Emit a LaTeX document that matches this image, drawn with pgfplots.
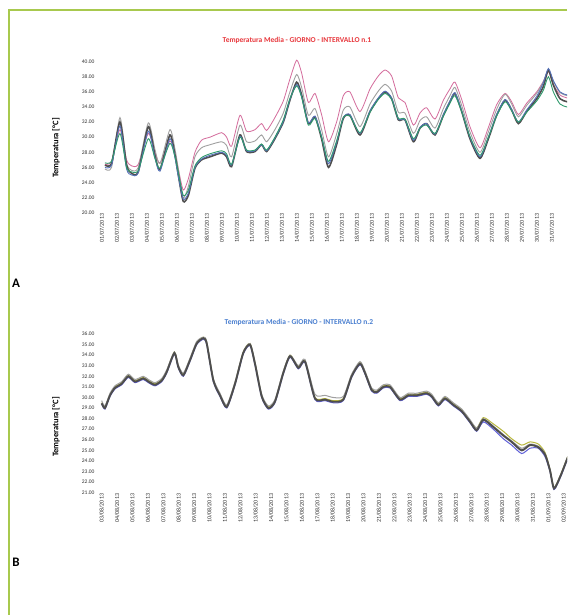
\documentclass[border=0pt]{standalone}
\usepackage{fontspec}
\setmainfont{Carlito}
\usepackage{pgfplots}
\pgfplotsset{compat=1.18}
\definecolor{bordergreen}{HTML}{A8C94E}
\definecolor{cdark}{HTML}{4E4E4E}
\definecolor{cgreen}{HTML}{2F9A6C}
\definecolor{cblue}{HTML}{5470B8}
\definecolor{cgrey}{HTML}{A0A0A0}
\definecolor{cmag}{HTML}{D46C9C}
\definecolor{colive}{HTML}{B9B83E}
\definecolor{cblue2}{HTML}{5E5ED8}
\definecolor{titlered}{HTML}{E8383D}
\definecolor{titleblue}{HTML}{4A7FD0}
\pgfplotsset{
  panel/.style={
    scale only axis,
    anchor=south west,
    axis line style={draw=none},
    major tick length=0pt,
    clip=false,
    xticklabel style={rotate=90, anchor=east, font=\fontsize{6}{7}\selectfont, color=black!80, inner sep=1pt},
    yticklabel style={font=\fontsize{5.5}{6}\selectfont, color=black!80, xshift=-2pt},
    /pgf/number format/assume math mode=true,
    yticklabel={\pgfmathprintnumber[fixed,fixed zerofill,precision=2]{\tick}},
  }
}
\begin{document}
\begin{tikzpicture}[x=1pt,y=1pt]
\useasboundingbox (0,0) rectangle (567,615);
\fill[white] (0,0) rectangle (567,615);
\begin{scope}
\clip (0,0) rectangle (567,615);
% ---------------- Panel A ----------------
\begin{axis}[panel, at={(100pt,402.3pt)}, width=482pt, height=158.55pt,
  xmin=-0.13, xmax=32, ymin=20, ymax=41, ytick={20,22,...,40}, xtick={0,...,30},
  xticklabels={01/07/2013,02/07/2013,03/07/2013,04/07/2013,05/07/2013,06/07/2013,07/07/2013,08/07/2013,09/07/2013,10/07/2013,11/07/2013,12/07/2013,13/07/2013,14/07/2013,15/07/2013,16/07/2013,17/07/2013,18/07/2013,19/07/2013,20/07/2013,21/07/2013,22/07/2013,23/07/2013,24/07/2013,25/07/2013,26/07/2013,27/07/2013,28/07/2013,29/07/2013,30/07/2013,31/07/2013}]
\addplot[cmag, line width=0.8pt, smooth, tension=0.4] coordinates {
(0.2,26.4)(0.64,26.8)(1.2,31.0)(1.64,27.0)(1.98,26.2)(2.42,26.4)(3.09,30.5)(3.53,28.0)(3.87,26.6)(4.53,29.5)(4.87,27.8)(5.09,25.8)(5.42,23.0)(5.76,24.5)(6.2,28.0)(6.64,29.6)(7.2,30.0)(7.98,30.6)(8.31,30.0)(8.64,28.8)(9.2,32.9)(9.64,30.8)(10.2,31.0)(10.64,31.8)(10.98,30.9)(11.53,32.6)(12.09,34.8)(12.53,37.7)(12.98,40.2)(13.31,38.5)(13.76,34.6)(14.2,35.8)(14.64,33.0)(15.1,29.4)(15.64,32.0)(16.09,35.5)(16.53,36.0)(17.2,33.4)(17.87,36.4)(18.42,38.1)(18.87,38.9)(19.31,38.1)(19.76,35.2)(20.2,34.6)(20.76,31.6)(21.2,33.2)(21.64,33.9)(22.2,32.4)(22.76,34.9)(23.2,36.4)(23.53,37.3)(23.98,35.0)(24.53,31.4)(25.2,28.6)(25.76,31.3)(26.31,34.3)(26.87,35.8)(27.31,34.7)(27.76,33.0)(28.31,34.5)(28.98,36.0)(29.42,37.4)(29.76,38.7)(30.09,37.0)(30.53,35.6)(31,35.2)(31.5,35.0)(32,35.4)};
\addplot[cgrey, line width=0.9pt, smooth, tension=0.4] coordinates {
(0.2,25.8)(0.64,26.0)(1.2,32.6)(1.64,26.6)(1.98,25.6)(2.42,26.0)(3.09,31.9)(3.53,28.4)(3.87,26.5)(4.53,31.0)(4.87,28.4)(5.09,25.8)(5.42,22.0)(5.76,23.5)(6.2,27.4)(6.64,28.6)(7.2,29.0)(7.98,29.4)(8.31,28.9)(8.64,27.4)(9.2,31.6)(9.64,29.4)(10.2,29.5)(10.64,30.3)(10.98,29.4)(11.53,31.0)(12.09,33.2)(12.53,36.0)(12.98,38.3)(13.31,36.6)(13.76,32.9)(14.2,33.8)(14.64,31.0)(15.1,27.4)(15.64,30.4)(16.09,33.6)(16.53,34.0)(17.2,31.4)(17.87,34.4)(18.42,36.1)(18.87,37.0)(19.31,36.1)(19.76,33.3)(20.2,33.2)(20.76,30.5)(21.2,32.2)(21.64,32.7)(22.2,31.2)(22.76,33.8)(23.2,35.5)(23.53,36.6)(23.98,34.2)(24.53,30.7)(25.2,28.0)(25.76,30.7)(26.31,33.7)(26.87,35.7)(27.31,34.4)(27.76,32.7)(28.31,34.2)(28.98,35.8)(29.42,37.3)(29.76,38.9)(30.09,37.4)(30.53,35.9)(31,35.5)(31.5,35.2)(32,35.6)};
\addplot[cdark, line width=1.6pt, smooth, tension=0.4] coordinates {
(0.2,26.3)(0.64,26.5)(1.2,32.0)(1.64,26.3)(1.98,25.2)(2.42,25.4)(3.09,31.4)(3.53,27.6)(3.87,25.7)(4.53,30.3)(4.87,27.6)(5.09,25.0)(5.42,21.5)(5.76,22.3)(6.2,25.9)(6.64,27.0)(7.2,27.4)(7.98,27.9)(8.31,27.4)(8.64,26.1)(9.2,30.3)(9.64,28.1)(10.2,28.1)(10.64,29.0)(10.98,28.1)(11.53,29.8)(12.09,32.0)(12.53,34.9)(12.98,37.3)(13.31,35.6)(13.76,31.8)(14.2,32.7)(14.64,29.8)(15.1,26.0)(15.64,29.0)(16.09,32.5)(16.53,32.9)(17.2,30.3)(17.87,33.4)(18.42,35.1)(18.87,36.0)(19.31,35.1)(19.76,32.3)(20.2,32.3)(20.76,29.4)(21.2,31.2)(21.64,31.8)(22.2,30.3)(22.76,32.9)(23.2,34.7)(23.53,35.8)(23.98,33.4)(24.53,29.8)(25.2,27.2)(25.76,29.8)(26.31,32.9)(26.87,34.9)(27.31,33.6)(27.76,31.8)(28.31,33.4)(28.98,35.1)(29.42,36.7)(29.76,38.9)(30.09,36.9)(30.53,35.1)(31,34.7)(31.5,34.4)(32,35.0)};
\addplot[cblue, line width=0.9pt, smooth, tension=0.4] coordinates {
(0.2,26.0)(0.64,26.3)(1.2,31.5)(1.64,25.8)(1.98,25.0)(2.42,25.3)(3.09,30.8)(3.53,27.3)(3.87,25.5)(4.53,29.8)(4.87,27.3)(5.09,24.8)(5.42,21.8)(5.76,22.6)(6.2,26.0)(6.64,27.1)(7.2,27.6)(7.98,28.0)(8.31,27.6)(8.64,26.3)(9.2,30.1)(9.64,28.2)(10.2,28.2)(10.64,29.0)(10.98,28.2)(11.53,29.9)(12.09,32.1)(12.53,35.0)(12.98,37.0)(13.31,35.4)(13.76,31.9)(14.2,32.8)(14.64,30.1)(15.1,26.5)(15.64,29.3)(16.09,32.6)(16.53,33.0)(17.2,30.5)(17.87,33.5)(18.42,35.2)(18.87,36.1)(19.31,35.2)(19.76,32.4)(20.2,32.3)(20.76,29.6)(21.2,31.3)(21.64,31.8)(22.2,30.4)(22.76,33.0)(23.2,34.8)(23.53,35.9)(23.98,33.5)(24.53,30.0)(25.2,27.4)(25.76,30.0)(26.31,33.0)(26.87,35.0)(27.31,33.7)(27.76,32.0)(28.31,33.6)(28.98,35.4)(29.42,37.2)(29.76,39.1)(30.09,37.5)(30.53,36.0)(31,35.6)(31.5,35.4)(32,35.8)};
\addplot[cgreen, line width=0.9pt, smooth, tension=0.4] coordinates {
(0.2,26.6)(0.64,26.8)(1.2,30.5)(1.64,26.0)(1.98,25.4)(2.42,25.6)(3.09,29.8)(3.53,27.2)(3.87,25.9)(4.53,29.2)(4.87,27.4)(5.09,25.3)(5.42,22.3)(5.76,23.0)(6.2,26.2)(6.64,27.3)(7.2,27.8)(7.98,28.2)(8.31,27.8)(8.64,26.4)(9.2,30.0)(9.64,28.3)(10.2,28.3)(10.64,29.1)(10.98,28.3)(11.53,30.0)(12.09,32.3)(12.53,35.1)(12.98,36.8)(13.31,35.3)(13.76,31.6)(14.2,32.5)(14.64,30.0)(15.1,26.8)(15.64,29.5)(16.09,32.6)(16.53,32.8)(17.2,30.6)(17.87,33.3)(18.42,35.0)(18.87,35.8)(19.31,35.0)(19.76,32.5)(20.2,32.4)(20.76,29.8)(21.2,31.2)(21.64,31.6)(22.2,30.5)(22.76,32.8)(23.2,34.5)(23.53,35.5)(23.98,33.4)(24.53,30.1)(25.2,27.6)(25.76,30.0)(26.31,32.8)(26.87,34.7)(27.31,33.5)(27.76,32.0)(28.31,33.3)(28.98,34.8)(29.42,36.2)(29.76,38.0)(30.09,36.0)(30.53,34.4)(31,34.0)(31.5,33.8)(32,34.2)};
\end{axis}
% ---------------- Panel B ----------------
\begin{axis}[panel, at={(100pt,122.3pt)}, width=486.8pt, height=158.7pt,
  xmin=-0.11, xmax=31.5, ymin=21, ymax=36, ytick={21,22,...,36}, xtick={0,...,30},
  xticklabels={03/08/2013,04/08/2013,05/08/2013,06/08/2013,07/08/2013,08/08/2013,09/08/2013,10/08/2013,11/08/2013,12/08/2013,13/08/2013,14/08/2013,15/08/2013,16/08/2013,17/08/2013,18/08/2013,19/08/2013,20/08/2013,21/08/2013,22/08/2013,23/08/2013,24/08/2013,25/08/2013,26/08/2013,27/08/2013,28/08/2013,29/08/2013,30/08/2013,31/08/2013,01/09/2013,02/09/2013}]
\addplot[colive, line width=1.0pt, smooth, tension=0.4] coordinates {
(0,29.5)(0.21,29.1)(0.54,30.3)(0.86,31.0)(1.3,31.4)(1.73,32.1)(2.16,31.6)(2.7,31.9)(3.03,31.6)(3.46,31.3)(3.9,31.7)(4.22,32.5)(4.72,34.3)(4.97,33.0)(5.3,32.2)(5.73,33.6)(6.17,35.2)(6.6,35.7)(6.82,35.2)(7.25,31.7)(7.68,30.3)(8.12,29.2)(8.66,31.4)(9.19,34.3)(9.63,35.1)(9.95,33.3)(10.39,30.2)(10.82,29.1)(11.25,29.7)(11.79,32.4)(12.23,34.0)(12.77,32.9)(13.2,33.5)(13.85,30.0)(14.5,29.9)(15.04,29.7)(15.69,29.9)(16.23,32.1)(16.77,33.3)(17.1,32.4)(17.53,30.8)(17.86,30.6)(18.29,31.1)(18.72,31.1)(19.37,29.9)(19.91,30.3)(20.45,30.3)(21.1,30.5)(21.43,30.2)(21.86,29.4)(22.29,30.0)(22.83,29.4)(23.38,28.8)(23.92,27.8)(24.35,27.1)(24.78,28.1)(25.43,27.5)(26.08,26.8)(26.62,26.1)(27.27,25.5)(27.81,25.8)(28.35,25.6)(28.79,24.8)(29.11,23.2)(29.37,21.5)(29.77,22.6)(30.23,24.3)(30.6,25.6)(31,26.1)(31.5,26.6)};
\addplot[cblue2, line width=1.0pt, smooth, tension=0.4] coordinates {
(0,29.4)(0.21,28.9)(0.54,30.1)(0.86,30.8)(1.3,31.2)(1.73,31.9)(2.16,31.4)(2.7,31.7)(3.03,31.4)(3.46,31.1)(3.9,31.5)(4.22,32.3)(4.72,34.1)(4.97,32.8)(5.3,32.0)(5.73,33.4)(6.17,35.0)(6.6,35.5)(6.82,35.0)(7.25,31.5)(7.68,30.1)(8.12,29.0)(8.66,31.2)(9.19,34.1)(9.63,34.9)(9.95,33.1)(10.39,30.0)(10.82,28.9)(11.25,29.5)(11.79,32.2)(12.23,33.8)(12.77,32.7)(13.2,33.3)(13.85,29.8)(14.5,29.7)(15.04,29.5)(15.69,29.7)(16.23,31.9)(16.77,33.1)(17.1,32.2)(17.53,30.6)(17.86,30.4)(18.29,30.9)(18.72,30.9)(19.37,29.7)(19.91,30.1)(20.45,30.1)(21.1,30.3)(21.43,30.0)(21.86,29.2)(22.29,29.8)(22.83,29.2)(23.38,28.6)(23.92,27.6)(24.35,26.8)(24.78,27.7)(25.43,27.0)(26.08,26.1)(26.62,25.5)(27.27,24.7)(27.81,25.2)(28.35,25.2)(28.79,24.4)(29.11,23.0)(29.37,21.3)(29.77,22.4)(30.23,24.1)(30.6,25.4)(31,25.9)(31.5,26.4)};
\addplot[cgrey, line width=1.0pt, smooth, tension=0.4] coordinates {
(0,29.7)(0.21,29.2)(0.54,30.4)(0.86,31.1)(1.3,31.5)(1.73,32.2)(2.16,31.7)(2.7,32.0)(3.03,31.7)(3.46,31.4)(3.9,31.8)(4.22,32.6)(4.72,34.3)(4.97,33.1)(5.3,32.3)(5.73,33.7)(6.17,35.3)(6.6,35.7)(6.82,35.3)(7.25,31.8)(7.68,30.4)(8.12,29.3)(8.66,31.5)(9.19,34.3)(9.63,35.1)(9.95,33.4)(10.39,30.3)(10.82,29.2)(11.25,29.8)(11.79,32.5)(12.23,34.0)(12.77,33.0)(13.2,33.6)(13.85,30.3)(14.5,30.2)(15.04,30.0)(15.69,30.1)(16.23,32.2)(16.77,33.4)(17.1,32.5)(17.53,30.9)(17.86,30.7)(18.29,31.2)(18.72,31.2)(19.37,30.0)(19.91,30.4)(20.45,30.4)(21.1,30.6)(21.43,30.3)(21.86,29.5)(22.29,30.1)(22.83,29.5)(23.38,28.9)(23.92,27.9)(24.35,27.1)(24.78,28.0)(25.43,27.3)(26.08,26.5)(26.62,25.9)(27.27,25.2)(27.81,25.6)(28.35,25.4)(28.79,24.7)(29.11,23.2)(29.37,21.5)(29.77,22.6)(30.23,24.3)(30.6,25.6)(31,26.1)(31.5,26.6)};
\addplot[cdark, line width=1.9pt, smooth, tension=0.4] coordinates {
(0,29.45)(0.21,29.0)(0.54,30.2)(0.86,30.9)(1.3,31.3)(1.73,32.0)(2.16,31.5)(2.7,31.8)(3.03,31.5)(3.46,31.2)(3.9,31.6)(4.22,32.4)(4.72,34.2)(4.97,32.9)(5.3,32.1)(5.73,33.5)(6.17,35.1)(6.6,35.6)(6.82,35.1)(7.25,31.6)(7.68,30.2)(8.12,29.1)(8.66,31.3)(9.19,34.2)(9.63,35.0)(9.95,33.2)(10.39,30.1)(10.82,29.0)(11.25,29.6)(11.79,32.3)(12.23,33.9)(12.77,32.8)(13.2,33.4)(13.85,29.9)(14.5,29.8)(15.04,29.6)(15.69,29.8)(16.23,32.0)(16.77,33.2)(17.1,32.3)(17.53,30.7)(17.86,30.5)(18.29,31.0)(18.72,31.0)(19.37,29.8)(19.91,30.2)(20.45,30.2)(21.1,30.4)(21.43,30.1)(21.86,29.3)(22.29,29.9)(22.83,29.3)(23.38,28.7)(23.92,27.7)(24.35,26.9)(24.78,27.9)(25.43,27.2)(26.08,26.4)(26.62,25.8)(27.27,25.0)(27.81,25.5)(28.35,25.3)(28.79,24.6)(29.11,23.1)(29.37,21.4)(29.77,22.5)(30.23,24.2)(30.6,25.5)(31,26.0)(31.5,26.5)};
\end{axis}
\end{scope}
% titles and labels
\node[font=\bfseries\fontsize{7.5}{8}\selectfont, text=titlered] at (297,575) {Temperatura Media - GIORNO - INTERVALLO n.1};
\node[font=\bfseries\fontsize{7.5}{8}\selectfont, text=titleblue] at (299,293) {Temperatura Media - GIORNO - INTERVALLO n.2};
\node[font=\bfseries\fontsize{8.5}{9}\selectfont, rotate=90] at (56,467) {Temperatura [°C]};
\node[font=\bfseries\fontsize{8.5}{9}\selectfont, rotate=90] at (56,188) {Temperatura [°C]};
\node[font=\bfseries\fontsize{13}{14}\selectfont] at (16,332) {A};
\node[font=\bfseries\fontsize{13}{14}\selectfont] at (16,53) {B};
% green frame
\draw[bordergreen, line width=1.6pt] (9,0) -- (9,605) -- (567,605);
\end{tikzpicture}
\end{document}
